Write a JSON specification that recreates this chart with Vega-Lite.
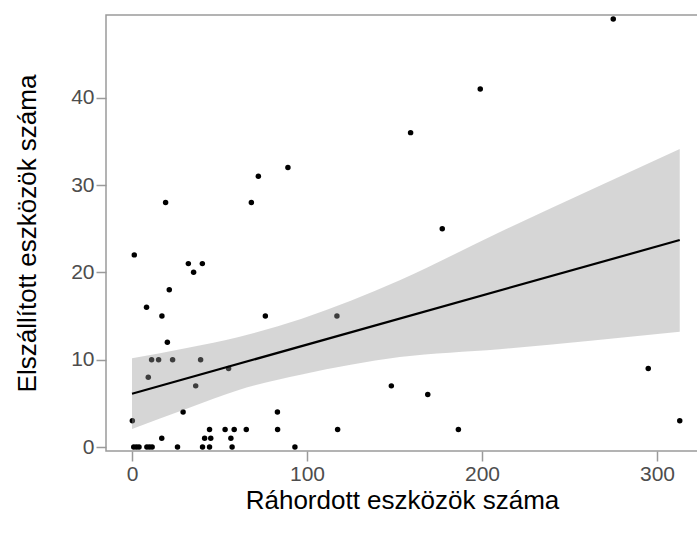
{
  "$schema": "https://vega.github.io/schema/vega-lite/v6.json",
  "width": 592,
  "height": 436,
  "autosize": {"type": "none"},
  "padding": {"left": 106, "top": 15, "right": 0, "bottom": 86},
  "background": "white",
  "config": {
    "font": "Liberation Sans",
    "view": {"stroke": "#9a9a9a", "strokeWidth": 1.5},
    "axis": {
      "domain": false,
      "grid": false,
      "tickColor": "#9a9a9a",
      "tickWidth": 1.5,
      "tickSize": 10,
      "labelColor": "#4d4d4d",
      "labelFont": "Liberation Sans",
      "labelFontSize": 21,
      "labelPadding": 2,
      "titleColor": "#000000",
      "titleFont": "Liberation Sans",
      "titleFontSize": 26,
      "titleFontWeight": "normal"
    }
  },
  "datasets": {
    "eszkozok": [
      {"rahordott": 1, "elszallitott": 0},
      {"rahordott": 2.5, "elszallitott": 0},
      {"rahordott": 4, "elszallitott": 0},
      {"rahordott": 8.5, "elszallitott": 0},
      {"rahordott": 10, "elszallitott": 0},
      {"rahordott": 11.5, "elszallitott": 0},
      {"rahordott": 26, "elszallitott": 0},
      {"rahordott": 40.3, "elszallitott": 0},
      {"rahordott": 44.3, "elszallitott": 0},
      {"rahordott": 57.2, "elszallitott": 0},
      {"rahordott": 93.1, "elszallitott": 0},
      {"rahordott": 17, "elszallitott": 1},
      {"rahordott": 41.5, "elszallitott": 1},
      {"rahordott": 45, "elszallitott": 1},
      {"rahordott": 56.5, "elszallitott": 1},
      {"rahordott": 44.3, "elszallitott": 2},
      {"rahordott": 53.2, "elszallitott": 2},
      {"rahordott": 58.4, "elszallitott": 2},
      {"rahordott": 65.3, "elszallitott": 2},
      {"rahordott": 83.2, "elszallitott": 2},
      {"rahordott": 117.5, "elszallitott": 2},
      {"rahordott": 186.5, "elszallitott": 2},
      {"rahordott": 0.2, "elszallitott": 3},
      {"rahordott": 313, "elszallitott": 3},
      {"rahordott": 29.2, "elszallitott": 4},
      {"rahordott": 83.1, "elszallitott": 4},
      {"rahordott": 169, "elszallitott": 6},
      {"rahordott": 36.4, "elszallitott": 7},
      {"rahordott": 148.2, "elszallitott": 7},
      {"rahordott": 9.3, "elszallitott": 8},
      {"rahordott": 55.2, "elszallitott": 9},
      {"rahordott": 295, "elszallitott": 9},
      {"rahordott": 11.2, "elszallitott": 10},
      {"rahordott": 15.2, "elszallitott": 10},
      {"rahordott": 23.2, "elszallitott": 10},
      {"rahordott": 39.2, "elszallitott": 10},
      {"rahordott": 20.2, "elszallitott": 12},
      {"rahordott": 17.1, "elszallitott": 15},
      {"rahordott": 76.2, "elszallitott": 15},
      {"rahordott": 117.1, "elszallitott": 15},
      {"rahordott": 8.3, "elszallitott": 16},
      {"rahordott": 21.3, "elszallitott": 18},
      {"rahordott": 35.2, "elszallitott": 20},
      {"rahordott": 32.2, "elszallitott": 21},
      {"rahordott": 40.2, "elszallitott": 21},
      {"rahordott": 1.3, "elszallitott": 22},
      {"rahordott": 177.3, "elszallitott": 25},
      {"rahordott": 19.2, "elszallitott": 28},
      {"rahordott": 68.2, "elszallitott": 28},
      {"rahordott": 72.2, "elszallitott": 31},
      {"rahordott": 89.1, "elszallitott": 32},
      {"rahordott": 159.2, "elszallitott": 36},
      {"rahordott": 199, "elszallitott": 41},
      {"rahordott": 275, "elszallitott": 49}
    ],
    "savok": [
      {"rahordott": 0, "also": 2.06, "felso": 10.16},
      {"rahordott": 32, "also": 4.43, "felso": 11.37},
      {"rahordott": 61, "also": 6.53, "felso": 12.6},
      {"rahordott": 97, "also": 8.3, "felso": 14.7},
      {"rahordott": 153, "also": 10.3, "felso": 19.1},
      {"rahordott": 210, "also": 11.2, "felso": 24.6},
      {"rahordott": 262, "also": 12.17, "felso": 29.43},
      {"rahordott": 313, "also": 13.2, "felso": 34.12}
    ],
    "illesztes": [
      {"rahordott": 0, "becsles": 6.1},
      {"rahordott": 313, "becsles": 23.7}
    ]
  },
  "layer": [
    {
      "data": {"name": "eszkozok"},
      "mark": {"type": "circle", "color": "#000000", "opacity": 1, "size": 30},
      "encoding": {
        "x": {
          "field": "rahordott", "type": "quantitative",
          "scale": {"domain": [-14.86, 323.43], "nice": false, "zero": false},
          "axis": {"values": [0, 100, 200, 300], "title": "Ráhordott eszközök száma",
                   "titleX": 296, "titleY": 57, "titleAlign": "center", "titleBaseline": "alphabetic", "titleAnchor": null}
        },
        "y": {
          "field": "elszallitott", "type": "quantitative",
          "scale": {"domain": [-0.458, 49.47], "nice": false, "zero": false},
          "axis": {"values": [0, 10, 20, 30, 40], "title": "Elszállított eszközök száma",
                   "titleX": -71, "titleY": 218, "titleAngle": -90, "titleAlign": "center", "titleBaseline": "alphabetic", "titleAnchor": null}
        }
      }
    },
    {
      "data": {"name": "savok"},
      "mark": {"type": "area", "color": "#999999", "opacity": 0.4, "interpolate": "monotone"},
      "encoding": {
        "x": {"field": "rahordott", "type": "quantitative", "title": "Ráhordott eszközök száma"},
        "y": {"field": "also", "type": "quantitative", "title": "Elszállított eszközök száma"},
        "y2": {"field": "felso"}
      }
    },
    {
      "data": {"name": "illesztes"},
      "mark": {"type": "line", "color": "#000000", "strokeWidth": 2.2},
      "encoding": {
        "x": {"field": "rahordott", "type": "quantitative", "title": "Ráhordott eszközök száma"},
        "y": {"field": "becsles", "type": "quantitative", "title": "Elszállított eszközök száma"}
      }
    }
  ]
}
